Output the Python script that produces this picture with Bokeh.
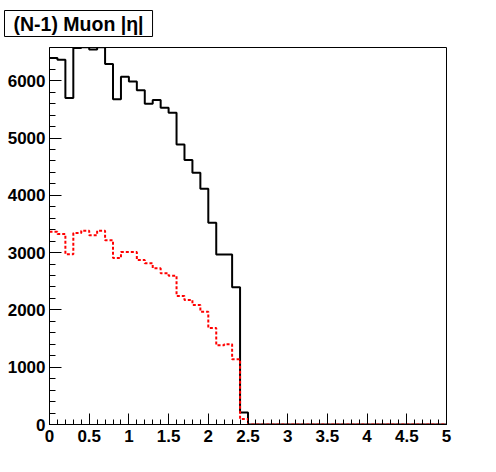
import numpy as np
from bokeh.plotting import figure
from bokeh.models import Range1d, SingleIntervalTicker, CustomJSTickFormatter
from bokeh.embed import file_html
from bokeh.resources import INLINE

# bin edges: 50 bins of 0.1 from 0 to 5
bin_edges = [round(i * 0.1, 1) for i in range(51)]

# black (solid) histogram values per bin
black_counts = [6395, 6365, 5700, 6570, 6585, 6545, 6585, 6290, 5675, 6070,
                5985, 5835, 5600, 5665, 5530, 5440, 4885, 4615, 4395, 4115,
                3520, 2965, 2965, 2395, 210, 0, 0, 0, 0, 0,
                0, 0, 0, 0, 0, 0, 0, 0, 0, 0,
                0, 0, 0, 0, 0, 0, 0, 0, 0, 0]

# red (dashed) histogram values per bin
red_counts = [3365, 3325, 2970, 3342, 3382, 3302, 3382, 3215, 2906, 3011,
              3011, 2871, 2813, 2726, 2639, 2598, 2243, 2173, 2086, 1969,
              1685, 1383, 1400, 1139, 95, 0, 0, 0, 0, 0,
              0, 0, 0, 0, 0, 0, 0, 0, 0, 0,
              0, 0, 0, 0, 0, 0, 0, 0, 0, 0]

title_text = "(N-1) Muon |\u03b7|"

font = "Liberation Sans"

p = figure(width=496, height=472, output_backend="svg", toolbar_location=None,
           x_range=Range1d(0, 5), y_range=Range1d(0, 6580),
           min_border_left=49, min_border_right=50, min_border_top=47,
           min_border_bottom=48, title=title_text)
p.background_fill_color = "white"
p.border_fill_color = "white"
p.outline_line_color = "black"
p.outline_line_width = 1
p.xgrid.visible = False
p.ygrid.visible = False

p.title.align = "left"
p.title.vertical_align = "top"
p.title.offset = -45
p.title.standoff = 18
p.title.padding = dict(left=9, right=9, top=2, bottom=2)
p.title.text_font = font
p.title.text_font_style = "bold"
p.title.text_font_size = "19.5px"
p.title.text_color = "black"
p.title.border_line_color = "black"
p.title.border_line_width = 1
p.title.background_fill_color = "white"

def style_axis(ax):
    ax.axis_line_color = "black"
    ax.axis_line_width = 1
    ax.major_tick_in = 12
    ax.major_tick_out = 0
    ax.minor_tick_in = 6
    ax.minor_tick_out = 0
    ax.major_tick_line_color = "black"
    ax.minor_tick_line_color = "black"
    ax.major_label_text_font = font
    ax.major_label_text_font_style = "bold"
    ax.major_label_text_font_size = "17px"
    ax.major_label_text_color = "black"

p.xaxis.ticker = SingleIntervalTicker(interval=0.5, num_minor_ticks=5)
p.yaxis.ticker = SingleIntervalTicker(interval=1000, num_minor_ticks=5)
p.xaxis.formatter = CustomJSTickFormatter(code="return String(Math.round(tick*10)/10);")
p.yaxis.formatter = CustomJSTickFormatter(code="return String(Math.round(tick));")
style_axis(p.xaxis[0])
style_axis(p.yaxis[0])
p.xaxis.major_tick_in = 11
p.xaxis.minor_tick_in = 5
p.xaxis.major_label_standoff = 5
p.yaxis.major_label_standoff = 4

xs = bin_edges
yb = black_counts + [black_counts[-1]]
yr = red_counts + [red_counts[-1]]
p.step(x=xs, y=yb, mode="after", line_color="black", line_width=2)
p.step(x=xs, y=yr, mode="after", line_color="red", line_width=2, line_dash="3 2")

open("out.html", "w").write(file_html(p, INLINE))
